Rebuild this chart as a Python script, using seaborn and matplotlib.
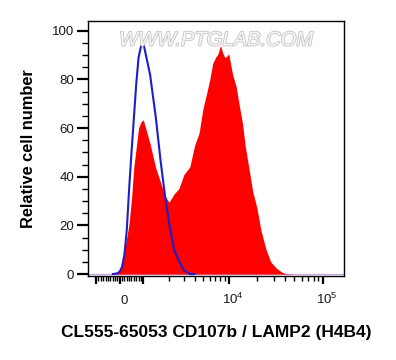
import numpy as np
import matplotlib
matplotlib.use('Agg')
import matplotlib.pyplot as plt
import matplotlib.patheffects as pe
import matplotlib.transforms as mtransforms
from matplotlib.ticker import FixedLocator, FixedFormatter, MultipleLocator
import seaborn as sns

# intensity (fluorescence) grid and histogram heights (% of max)
red_x = [-1240, -600, -300, -100, 0, 100, 200, 300, 400, 500, 600, 700, 800, 900, 1000,
         1200, 1400, 1600, 1800, 2000, 2300, 2600, 3000, 3500, 4000, 4500, 5000, 5500,
         6000, 6500, 7000, 7500, 8000, 8500, 9000, 9500, 10000, 11000, 12000, 13000,
         14000, 15000, 16000, 18000, 20000, 22000, 25000, 28000, 32000, 36000, 40000,
         50000, 100000, 168000]
red_y = [0, 0, 0, 0.5, 1.5, 4.5, 10, 15, 21, 31, 44, 52, 60, 62.5, 63.4,
         53.5, 43.5, 37.5, 32, 29.5, 33, 35, 41, 44, 53, 58, 68, 74,
         80, 86.5, 89, 90.5, 94, 91, 89, 89.5, 90.5, 82, 77, 69,
         62, 52.5, 46, 34, 27, 18, 10, 5, 2.5, 1, 0.2,
         0, 0, 0]

blue_x = [-300, -100, 0, 100, 200, 300, 400, 500, 600, 700, 800, 900, 1000,
          1200, 1400, 1600, 1800, 2000, 2300, 2600, 3000, 3500, 4000]
blue_y = [0, 0.3, 1, 3, 8, 18, 35, 50, 64, 78, 89, 93.5, 95,
          82, 64.5, 46, 32, 21, 10, 5.5, 1.5, 0, 0]

y_ticks = [0, 20, 40, 60, 80, 100]
x_major = [-1000, 0, 1000, 1e4, 1e5]
x_major_labels = ['', '0', '', r'$10^4$', r'$10^5$']
x_minor = ([-k * 100 for k in range(1, 10)] + [k * 100 for k in range(1, 10)]
           + [k * 1000 for k in range(2, 10)] + [k * 10000 for k in range(2, 10)])


# biexponential-like display scale (linear near zero, log above 10^3)
LIN = 23.6
DEC1 = 85.4
DEC2 = 94.0


def fwd(x):
    x = np.asarray(x, dtype=float)
    a = np.abs(x)
    with np.errstate(divide='ignore', invalid='ignore'):
        lo = a * LIN / 1e3
        mid = LIN + DEC1 * np.log10(a / 1e3)
        hi = LIN + DEC1 + DEC2 * np.log10(a / 1e4)
    y = np.where(a <= 1e3, lo, np.where(a <= 1e4, mid, hi))
    return np.sign(x) * y


def inv(y):
    y = np.asarray(y, dtype=float)
    b = np.abs(y)
    with np.errstate(over='ignore'):
        lo = b * 1e3 / LIN
        mid = 1e3 * 10 ** ((b - LIN) / DEC1)
        hi = 1e4 * 10 ** ((b - LIN - DEC1) / DEC2)
    x = np.where(b <= LIN, lo, np.where(b <= LIN + DEC1, mid, hi))
    return np.sign(y) * x


sns.set_style('ticks')
plt.rcParams['font.family'] = ['Liberation Sans', 'DejaVu Sans']
plt.rcParams['text.color'] = 'black'
plt.rcParams['axes.labelcolor'] = 'black'
plt.rcParams['mathtext.fontset'] = 'custom'
plt.rcParams['mathtext.rm'] = 'Liberation Sans'
plt.rcParams['mathtext.it'] = 'Liberation Sans:italic'
plt.rcParams['mathtext.bf'] = 'Liberation Sans:bold'

fig = plt.figure(figsize=(3.96, 3.6), dpi=100)
ax = fig.add_axes([88 / 396, 84 / 360, 256 / 396, 255 / 360])

ax.axhline(0, color='#c9a6dc', linewidth=0.9, zorder=1)
ax.fill_between(red_x, red_y, color='#ff0000', linewidth=0, zorder=2)
sns.lineplot(x=blue_x, y=blue_y, ax=ax, color='#1e1ec8', linewidth=1.5,
             estimator=None, sort=False, zorder=3)

ax.set_xscale('function', functions=(fwd, inv))
ax.set_xlim(-1244, 168500)
ax.set_ylim(-0.8, 104)

for s in ax.spines.values():
    s.set_color('black')
    s.set_linewidth(1.0)

ax.set_yticks(y_ticks)
ax.yaxis.set_minor_locator(MultipleLocator(5))
ax.xaxis.set_major_locator(FixedLocator(x_major))
ax.xaxis.set_major_formatter(FixedFormatter(x_major_labels))
ax.xaxis.set_minor_locator(FixedLocator(x_minor))

ax.tick_params(axis='y', which='major', length=8, width=1.6, pad=2,
               labelsize=9.5, labelcolor='#1a1a1a', color='black')
ax.tick_params(axis='y', which='minor', length=4, width=1, color='black')
ax.tick_params(axis='x', which='major', length=6, width=1.6, pad=14,
               labelsize=9.5, labelcolor='#1a1a1a', color='black')
ax.tick_params(axis='x', which='minor', length=3.5, width=1, color='black')

ax.set_xlabel('CL555-65053 CD107b / LAMP2 (H4B4)', fontsize=12.5,
              fontweight='bold', labelpad=13, color='black')
ax.set_ylabel('Relative cell number', fontsize=11.8, fontweight='bold',
              labelpad=11.5, color='black')

ax.text(0.5, 0.925, 'WWW.PTGLAB.COM', transform=ax.transAxes, ha='center',
        va='center', fontsize=14.5, style='italic', color='#f6f6f6', zorder=5,
        path_effects=[pe.withStroke(linewidth=1.2, foreground='#c4c4c4')])

shift = mtransforms.ScaledTranslation(4 / 100, 0, fig.dpi_scale_trans)
for lab in ax.get_xticklabels():
    lab.set_va('baseline')
    lab.set_transform(lab.get_transform() + shift)

fig.savefig('out.png', dpi=100)
